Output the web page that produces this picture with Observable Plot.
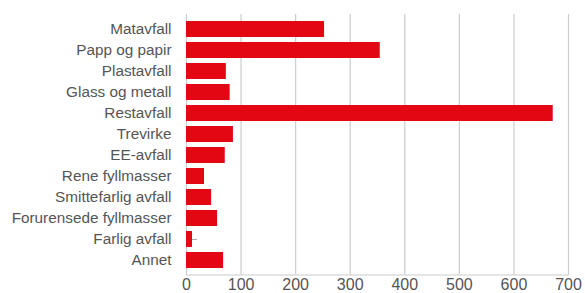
<!DOCTYPE html>
<html>
<head>
<meta charset="utf-8">
<script src="https://cdn.jsdelivr.net/npm/d3@7"></script>
<script src="https://cdn.jsdelivr.net/npm/@observablehq/plot@0.6"></script>
<style>
  html, body { margin: 0; padding: 0; background: #fff; }
  #chart svg { display: block; }
</style>
</head>
<body>
<div id="chart"></div>
<script>
const categories = ["Matavfall","Papp og papir","Plastavfall","Glass og metall","Restavfall","Trevirke","EE-avfall","Rene fyllmasser","Smittefarlig avfall","Forurensede fyllmasser","Farlig avfall","Annet"];
const values = [253, 355, 73, 80, 672, 86, 71, 33, 46, 57, 11, 68];
const errorCategory = ["Farlig avfall"];
const errorHigh = [20];
const xTicks = [0, 100, 200, 300, 400, 500, 600, 700];

const data = categories.map((c, i) => ({cat: c, value: values[i]}));
const errs = errorCategory.map((c, i) => ({cat: c, lo: values[categories.indexOf(c)], hi: errorHigh[i]}));

const chart = Plot.plot({
  width: 585,
  height: 293,
  marginLeft: 186,
  marginRight: 17,
  marginTop: 14,
  marginBottom: 18.5,
  style: {fontFamily: "'Liberation Sans', Arial, Helvetica, sans-serif", background: "#fff"},
  x: {domain: [0, 700], ticks: xTicks},
  y: {domain: categories, padding: 0.26, paddingOuter: 0.13},
  marks: [
    Plot.gridX(xTicks, {stroke: "#cccccc", strokeOpacity: 1, strokeWidth: 1.2}),
    Plot.frame({anchor: "bottom", stroke: "#cccccc", strokeWidth: 1.2}),
    Plot.barX(data, {y: "cat", x: "value", fill: "#e30613"}),
    Plot.ruleY(errs, {y: "cat", x1: "lo", x2: "hi", stroke: "#aaaaaa", strokeWidth: 1}),
    Plot.axisX(xTicks, {tickSize: 0, tickPadding: 4, fontSize: 16, fill: "#555", label: null}),
    Plot.axisY({tickSize: 0, tickPadding: 15, fontSize: 15.3, fill: "#555", label: null})
  ]
});
document.getElementById("chart").appendChild(chart);
</script>
</body>
</html>
